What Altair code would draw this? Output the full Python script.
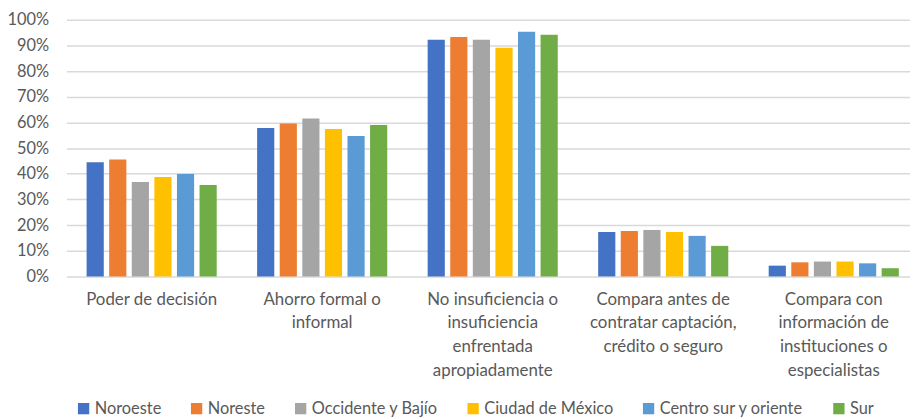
import altair as alt
import pandas as pd

categories = [
    "Poder de decisión",
    "Ahorro formal o|informal",
    "No insuficiencia o|insuficiencia|enfrentada|apropiadamente",
    "Compara antes de|contratar captación,|crédito o seguro",
    "Compara con|información de|instituciones o|especialistas",
]
regions = ["Noroeste", "Noreste", "Occidente y Bajío", "Ciudad de México",
           "Centro sur y oriente", "Sur"]
colors = ["#4472C4", "#ED7D31", "#A5A5A5", "#FFC000", "#5B9BD5", "#70AD47"]

noroeste = [0.445, 0.578, 0.922, 0.173, 0.042]
noreste = [0.455, 0.596, 0.933, 0.177, 0.055]
occidente = [0.368, 0.615, 0.922, 0.181, 0.058]
cdmx = [0.387, 0.574, 0.891, 0.173, 0.058]
centro = [0.399, 0.547, 0.953, 0.158, 0.051]
sur = [0.356, 0.590, 0.941, 0.119, 0.032]

series = [noroeste, noreste, occidente, cdmx, centro, sur]
rows = []
for r, vals in zip(regions, series):
    for c, v in zip(categories, vals):
        rows.append({"cat": c, "region": r, "value": v})
df = pd.DataFrame(rows)

FONT = "Lato"
TXT = "#595959"

chart = alt.Chart(df).mark_bar().encode(
    x=alt.X("cat:N", sort=categories, title=None,
            scale=alt.Scale(range=[0, 860], paddingInner=0.237, paddingOuter=0.118),
            axis=alt.Axis(labelAngle=0, labelExpr="split(datum.label, '|')",
                          labelFont=FONT, labelFontSize=17, labelColor=TXT,
                          labelLineHeight=24, labelPadding=15, labelBaseline="top",
                          ticks=False, domain=False, grid=False)),
    xOffset=alt.XOffset("region:N", sort=regions,
                        scale=alt.Scale(paddingInner=0.24, paddingOuter=0)),
    y=alt.Y("value:Q", title=None,
            scale=alt.Scale(domain=[0, 1]),
            axis=alt.Axis(format=".0%", values=[i / 10 for i in range(11)],
                          labelFont=FONT, labelFontSize=16.5, labelColor=TXT,
                          labelPadding=18, ticks=False, domain=False,
                          gridColor="#d9d9d9", gridWidth=1.5)),
    color=alt.Color("region:N", sort=regions, title=None,
                    scale=alt.Scale(domain=regions, range=colors),
                    legend=alt.Legend(orient="none", direction="horizontal",
                                      legendX=9, legendY=384,
                                      symbolType="square", symbolSize=130,
                                      symbolStrokeWidth=0,
                                      labelFont=FONT, labelFontSize=16.5,
                                      labelColor=TXT, labelOffset=3,
                                      columnPadding=27, columns=6)),
).properties(
    width=851, height=259,
    autosize=alt.AutoSizeParams(type="none"),
    padding={"left": 59, "top": 10, "right": 0, "bottom": 140},
).configure_view(stroke=None)

chart.save("out.html", embed_options={"renderer": "svg", "actions": False})
